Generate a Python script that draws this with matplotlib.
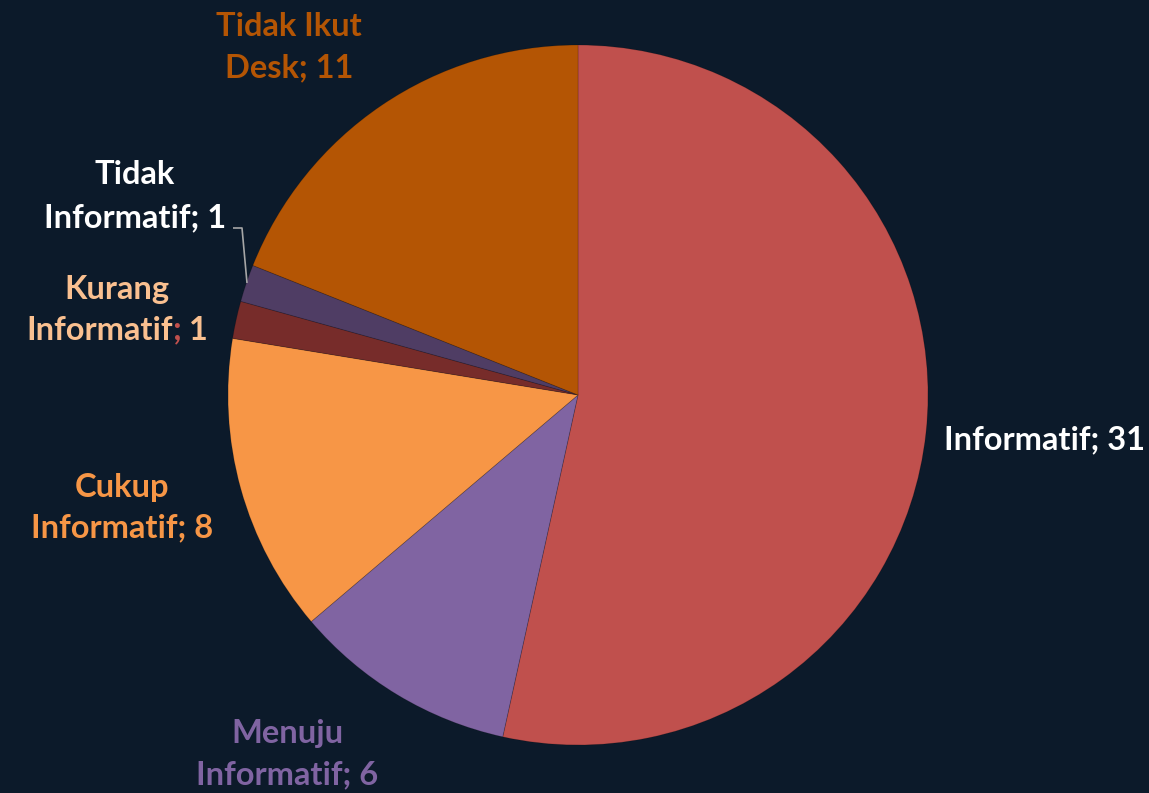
import matplotlib
matplotlib.use("Agg")
import matplotlib.pyplot as plt

categories = ["Informatif", "Menuju Informatif", "Cukup Informatif",
              "Kurang Informatif", "Tidak Informatif", "Tidak Ikut Desk"]
values = [31, 6, 8, 1, 1, 11]
slice_colors = ["#C0504D", "#8064A2", "#F79646", "#772C2A", "#4F3D64", "#B45504"]
label_colors = ["#FFFFFF", "#8064A2", "#F79646", "#FAC090", "#FFFFFF", "#B45504"]

BG = "#0C1A2A"
W, H = 1149, 793
fig = plt.figure(figsize=(W / 100, H / 100), dpi=100, facecolor=BG)
ax = fig.add_axes([0, 0, 1, 1])
ax.set_facecolor(BG)

cx, cy, r = 578, H - 395, 350
ax.pie(values, colors=slice_colors, startangle=90, counterclock=False,
       center=(cx, cy), radius=r, frame=True,
       wedgeprops=dict(linewidth=0.6, edgecolor="#00000030"))
ax.set_xlim(0, W)
ax.set_ylim(0, H)
ax.set_aspect("equal")
ax.axis("off")

FONT = dict(family="Lato", fontweight="bold", fontsize=23.5)


def put(x, y, s, color, ha="center"):
    return ax.text(x, H - y, s, color=color, ha=ha, va="center", **FONT)


# label text lines (top-origin pixel positions)
put(944, 440, f"{categories[0]}; {values[0]}", label_colors[0], ha="left")

put(287, 734, "Menuju", label_colors[1])
put(287, 775, f"Informatif; {values[1]}", label_colors[1])

put(122, 487, "Cukup", label_colors[2])
put(122, 528, f"Informatif; {values[2]}", label_colors[2])

put(117, 289, "Kurang", label_colors[3])

# second line of "Kurang" has a red separator: measure the whole line, then
# draw it in three coloured pieces
fig.canvas.draw()
renderer = fig.canvas.get_renderer()
probe = put(117, 330, f"Informatif; {values[3]}", "none")
x_left = probe.get_window_extent(renderer).x0
probe.remove()

to_data_x = lambda px: ax.transData.inverted().transform((px, 0))[0]
x_cursor = x_left
for piece, col in [("Informatif", label_colors[3]), (";", "#C0504D"),
                   (f" {values[3]}", label_colors[3])]:
    t = put(to_data_x(x_cursor), 330, piece, col, ha="left")
    x_cursor = t.get_window_extent(renderer).x1

put(135, 175, "Tidak", label_colors[4])
put(135, 218, f"Informatif; {values[4]}", label_colors[4])

put(289, 27, "Tidak Ikut", label_colors[5])
put(289, 68, f"Desk; {values[5]}", label_colors[5])

# leader line for the small "Tidak Informatif" slice
ax.plot([233, 242, 247], [H - 228, H - 228, H - 283], color="#A6A6A6", lw=1.2,
        solid_capstyle="butt")

fig.savefig("out.png", dpi=100, facecolor=BG)
